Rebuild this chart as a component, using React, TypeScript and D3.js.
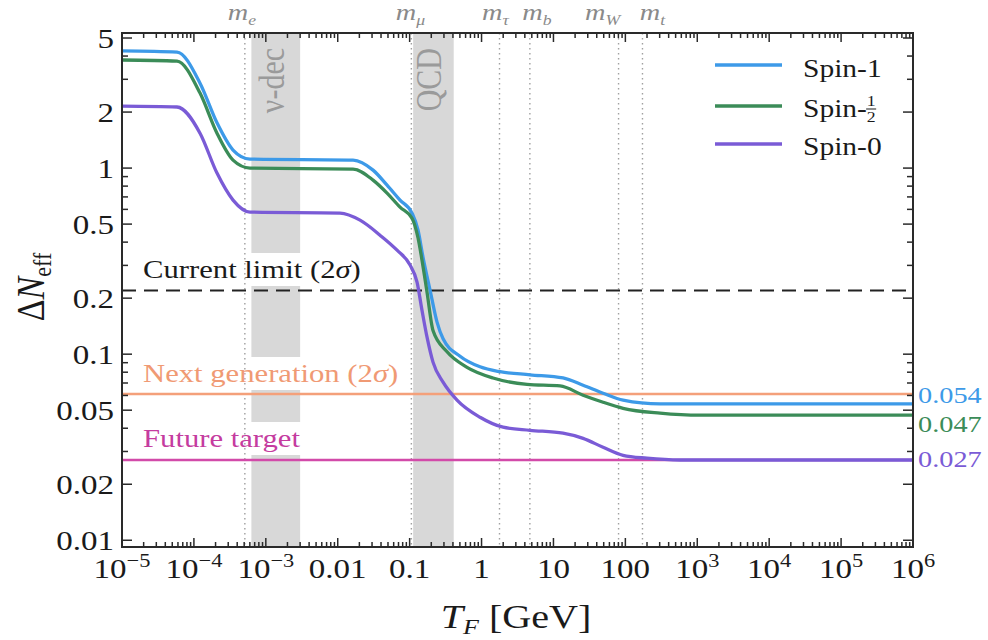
import React from "react";
import * as d3 from "d3";

// ---------- data ----------
const spin1LogT = [-5, -4.235, -3.915, -3.679, -3.456, -3.22, -1.787, -1.509, -1.314, -1.134, -0.967, -0.883, -0.814, -0.716, -0.619, -0.535, -0.299, -0.021, 0.257, 0.675, 1.133, 1.412, 1.69, 1.968, 2.483, 6];
const spin1Vals = [4.26, 4.2, 2.86, 1.75, 1.25, 1.118, 1.104, 0.975, 0.81, 0.673, 0.573, 0.464, 0.332, 0.221, 0.1486, 0.121, 0.0975, 0.0855, 0.0805, 0.0775, 0.0745, 0.0681, 0.0617, 0.0566, 0.054, 0.054];

const spinHalfLogT = [-5, -4.235, -3.915, -3.679, -3.456, -3.22, -1.787, -1.509, -1.314, -1.134, -0.967, -0.883, -0.828, -0.758, -0.675, -0.48, -0.202, 0.16, 0.633, 1.092, 1.412, 1.69, 1.968, 2.483, 3.04, 6];
const spinHalfVals = [3.81, 3.76, 2.53, 1.54, 1.104, 1.0, 0.988, 0.862, 0.734, 0.617, 0.538, 0.421, 0.32, 0.215, 0.134, 0.103, 0.085, 0.0745, 0.0688, 0.0675, 0.0602, 0.0552, 0.0512, 0.0482, 0.047, 0.047];

const spin0LogT = [-5, -4.235, -3.915, -3.679, -3.456, -3.22, -1.968, -1.69, -1.412, -1.175, -0.994, -0.897, -0.828, -0.758, -0.675, -0.535, -0.341, -0.021, 0.299, 0.675, 1.133, 1.412, 1.69, 1.968, 2.3, 2.76, 6];
const spin0Vals = [2.15, 2.13, 1.54, 0.94, 0.673, 0.58, 0.573, 0.525, 0.436, 0.362, 0.301, 0.244, 0.172, 0.1234, 0.0906, 0.0707, 0.0566, 0.0458, 0.0405, 0.039, 0.0376, 0.0353, 0.0316, 0.0286, 0.0276, 0.027, 0.027];

const seriesNames = ["Spin-1", "Spin-1/2", "Spin-0"];
const finalLabels = ["0.054", "0.047", "0.027"];

const massNames = ["e", "μ", "τ", "b", "W", "t"];
const massValues = [0.000511, 0.1057, 1.777, 4.7, 80.4, 173];

const bandNames = ["ν-dec", "QCD"];
const bandLow = [0.00063, 0.112];
const bandHigh = [0.003, 0.41];

const limitNames = ["Current limit (2σ)", "Next generation (2σ)", "Future target"];
const limitValues = [0.22, 0.061, 0.027];

const xTickValues = [1e-5, 1e-4, 1e-3, 0.01, 0.1, 1, 10, 100, 1e3, 1e4, 1e5, 1e6];
const xTickBase = ["10", "10", "10", "0.01", "0.1", "1", "10", "100", "10", "10", "10", "10"];
const xTickExp = ["−5", "−4", "−3", "", "", "", "", "", "3", "4", "5", "6"];

const yTickValues = [0.01, 0.02, 0.05, 0.1, 0.2, 0.5, 1, 2, 5];
const yTickLabels = ["0.01", "0.02", "0.05", "0.1", "0.2", "0.5", "1", "2", "5"];

// ---------- layout / style ----------
const W = 988, H = 640;
const L = 122, R = 913, TOP = 33, BOT = 547;
const SX = 1.18;
const FONT = "'Liberation Serif', 'Times New Roman', serif";
const colors = ["#3d9ae8", "#3b8c58", "#7a5bd6"];
const limitColors = ["#222222", "#f4a07a", "#d24aa9"];
const limitTextColors = ["#1a1a1a", "#f09a74", "#c53c9f"];
const limitTextWidths = [222, 262, 160];
const limitTextBase = [278, 382, 447];
const massLabelDx = [-3, -1, -4, 7, -16, 10];
const legendLineY = [65, 106, 144];
const legendTextY = [77, 117, 155];
const finalLabelY = [403, 432, 467];

const x = d3.scaleLog().domain([1e-5, 1e6]).range([L, R]);
const y = d3.scaleLog().domain([0.0092, 5.32]).range([BOT, TOP]);

const lineGen = d3
  .line<[number, number]>()
  .x((d) => x(d[0]))
  .y((d) => y(d[1]))
  .curve(d3.curveMonotoneX);

const series = [
  spin1LogT.map((t, i) => [Math.pow(10, t), spin1Vals[i]] as [number, number]),
  spinHalfLogT.map((t, i) => [Math.pow(10, t), spinHalfVals[i]] as [number, number]),
  spin0LogT.map((t, i) => [Math.pow(10, t), spin0Vals[i]] as [number, number]),
];

const tx = (px: number, py: number, rot?: number) =>
  `translate(${px},${py}) scale(${SX},1)` + (rot ? ` rotate(${rot})` : "");

function minorTicks(lo: number, hi: number, decLo: number, decHi: number) {
  const out: number[] = [];
  for (let d = decLo; d <= decHi; d++) {
    for (let k = 1; k <= 9; k++) {
      const v = k * Math.pow(10, d);
      if (v >= lo * 0.999 && v <= hi * 1.001) out.push(v);
    }
  }
  return out;
}

export default function App() {
  const xAll = minorTicks(1e-5, 1e6, -5, 6);
  const yAll = minorTicks(0.0092, 5.32, -3, 0);
  const isXMajor = (v: number) => Math.abs(Math.log10(v) - Math.round(Math.log10(v))) < 1e-6;
  const isYMajor = (v: number) => {
    const e = Math.floor(Math.log10(v) + 1e-9);
    const k = Math.round(v / Math.pow(10, e));
    return k === 1 || k === 2 || k === 5;
  };

  return (
    <svg width={W} height={H} style={{ position: "absolute", left: 0, top: 0, background: "#fff" }} fontFamily={FONT}>
      <rect x={0} y={0} width={W} height={H} fill="#fff" />
      {/* bands */}
      {bandNames.map((b, i) => (
        <rect key={b} x={x(bandLow[i])} y={TOP} width={x(bandHigh[i]) - x(bandLow[i])} height={BOT - TOP} fill="#d8d8d8" />
      ))}
      {/* label backgrounds */}
      {limitNames.map((n, i) => (
        <rect key={n} x={140} y={limitTextBase[i] - 25} width={limitTextWidths[i] + 6} height={33} fill="#fff" />
      ))}
      {/* band labels */}
      {bandNames.map((b, i) => (
        <text
          key={b}
          transform={tx((x(bandLow[i]) + x(bandHigh[i])) / 2 + 8, 48, -90)}
          textAnchor="end"
          fontSize={30}
          fill="#9a9a9a"
        >
          {b}
        </text>
      ))}
      {/* mass lines */}
      {massValues.map((m, i) => (
        <line key={i} x1={x(m)} x2={x(m)} y1={TOP} y2={BOT} stroke="#a0a0a0" strokeWidth={1.4} strokeDasharray="1.5 3.5" />
      ))}
      {/* mass labels */}
      {massNames.map((n, i) => (
        <text key={n} transform={tx(x(massValues[i]) + massLabelDx[i], 20)} textAnchor="middle" fontSize={24} fill="#8a8a8a" fontStyle="italic">
          m
          <tspan fontSize={15} dy={5}>
            {n}
          </tspan>
        </text>
      ))}
      {/* limit lines */}
      <line x1={L} x2={R} y1={y(limitValues[0])} y2={y(limitValues[0])} stroke={limitColors[0]} strokeWidth={2} strokeDasharray="14 8" />
      <line x1={L} x2={R} y1={y(limitValues[1])} y2={y(limitValues[1])} stroke={limitColors[1]} strokeWidth={2.5} />
      <line x1={L} x2={R} y1={y(limitValues[2])} y2={y(limitValues[2])} stroke={limitColors[2]} strokeWidth={2.5} />
      {/* limit labels */}
      {limitNames.map((n, i) => {
        const parts = n.split("σ");
        return (
          <text key={n} transform={tx(143, limitTextBase[i])} fontSize={26} fill={limitTextColors[i]}>
            {parts[0]}
            {parts.length > 1 && <tspan fontStyle="italic">σ</tspan>}
            {parts.length > 1 && parts[1]}
          </text>
        );
      })}
      {/* curves */}
      {series.map((s, i) => (
        <path key={i} d={lineGen(s) || ""} fill="none" stroke={colors[i]} strokeWidth={3.3} strokeLinejoin="round" />
      ))}
      {/* frame */}
      <rect x={L} y={TOP} width={R - L} height={BOT - TOP} fill="none" stroke="#2a2a2a" strokeWidth={2} />
      {/* x ticks */}
      {xAll.map((v, i) => {
        const len = isXMajor(v) ? 9 : 5;
        return (
          <g key={"xt" + i} stroke="#2a2a2a" strokeWidth={1.5}>
            <line x1={x(v)} x2={x(v)} y1={BOT} y2={BOT - len} />
            <line x1={x(v)} x2={x(v)} y1={TOP} y2={TOP + len} />
          </g>
        );
      })}
      {/* y ticks */}
      {yAll.map((v, i) => {
        const len = isYMajor(v) ? 10 : 6;
        return (
          <g key={"yt" + i} stroke="#2a2a2a" strokeWidth={1.5}>
            <line x1={L} x2={L + len} y1={y(v)} y2={y(v)} />
            <line x1={R} x2={R - len} y1={y(v)} y2={y(v)} />
          </g>
        );
      })}
      {/* x tick labels */}
      {xTickValues.map((v, i) => (
        <text key={"xl" + i} transform={tx(x(v), 578)} textAnchor="middle" fontSize={28} fill="#1a1a1a">
          {xTickBase[i]}
          {xTickExp[i] && (
            <tspan fontSize={19} dy={-11}>
              {xTickExp[i]}
            </tspan>
          )}
        </text>
      ))}
      {/* y tick labels */}
      {yTickValues.map((v, i) => (
        <text key={"yl" + i} transform={tx(114, y(v) + 10)} textAnchor="end" fontSize={28} fill="#1a1a1a">
          {yTickLabels[i]}
        </text>
      ))}
      {/* axis titles */}
      <text transform={tx(44, 287, -90)} textAnchor="middle" fontSize={34} fill="#1a1a1a">
        Δ<tspan fontStyle="italic">N</tspan>
        <tspan fontSize={22} dy={6}>
          eff
        </tspan>
      </text>
      <text transform={tx(516, 628)} textAnchor="middle" fontSize={34} fill="#1a1a1a">
        <tspan fontStyle="italic">T</tspan>
        <tspan fontStyle="italic" fontSize={22} dy={6}>
          F
        </tspan>
        <tspan dy={-6}>{"  [GeV]"}</tspan>
      </text>
      {/* legend */}
      {seriesNames.map((n, i) => (
        <g key={n}>
          <line x1={715} x2={782} y1={legendLineY[i]} y2={legendLineY[i]} stroke={colors[i]} strokeWidth={3.5} />
          {n === "Spin-1/2" ? (
            <g transform={tx(803, legendTextY[i])}>
              <text fontSize={25} fill="#1a1a1a">Spin-</text>
              <text x={54} y={-11} fontSize={15} fill="#1a1a1a">1</text>
              <line x1={53.5} x2={62} y1={-8} y2={-8} stroke="#1a1a1a" strokeWidth={1} />
              <text x={54} y={5} fontSize={15} fill="#1a1a1a">2</text>
            </g>
          ) : (
            <text transform={tx(803, legendTextY[i])} fontSize={25} fill="#1a1a1a">
              {n}
            </text>
          )}
        </g>
      ))}
      {/* final value labels */}
      {finalLabels.map((f, i) => (
        <text key={f} transform={tx(918, finalLabelY[i])} fontSize={24} fill={colors[i]}>
          {f}
        </text>
      ))}
    </svg>
  );
}
